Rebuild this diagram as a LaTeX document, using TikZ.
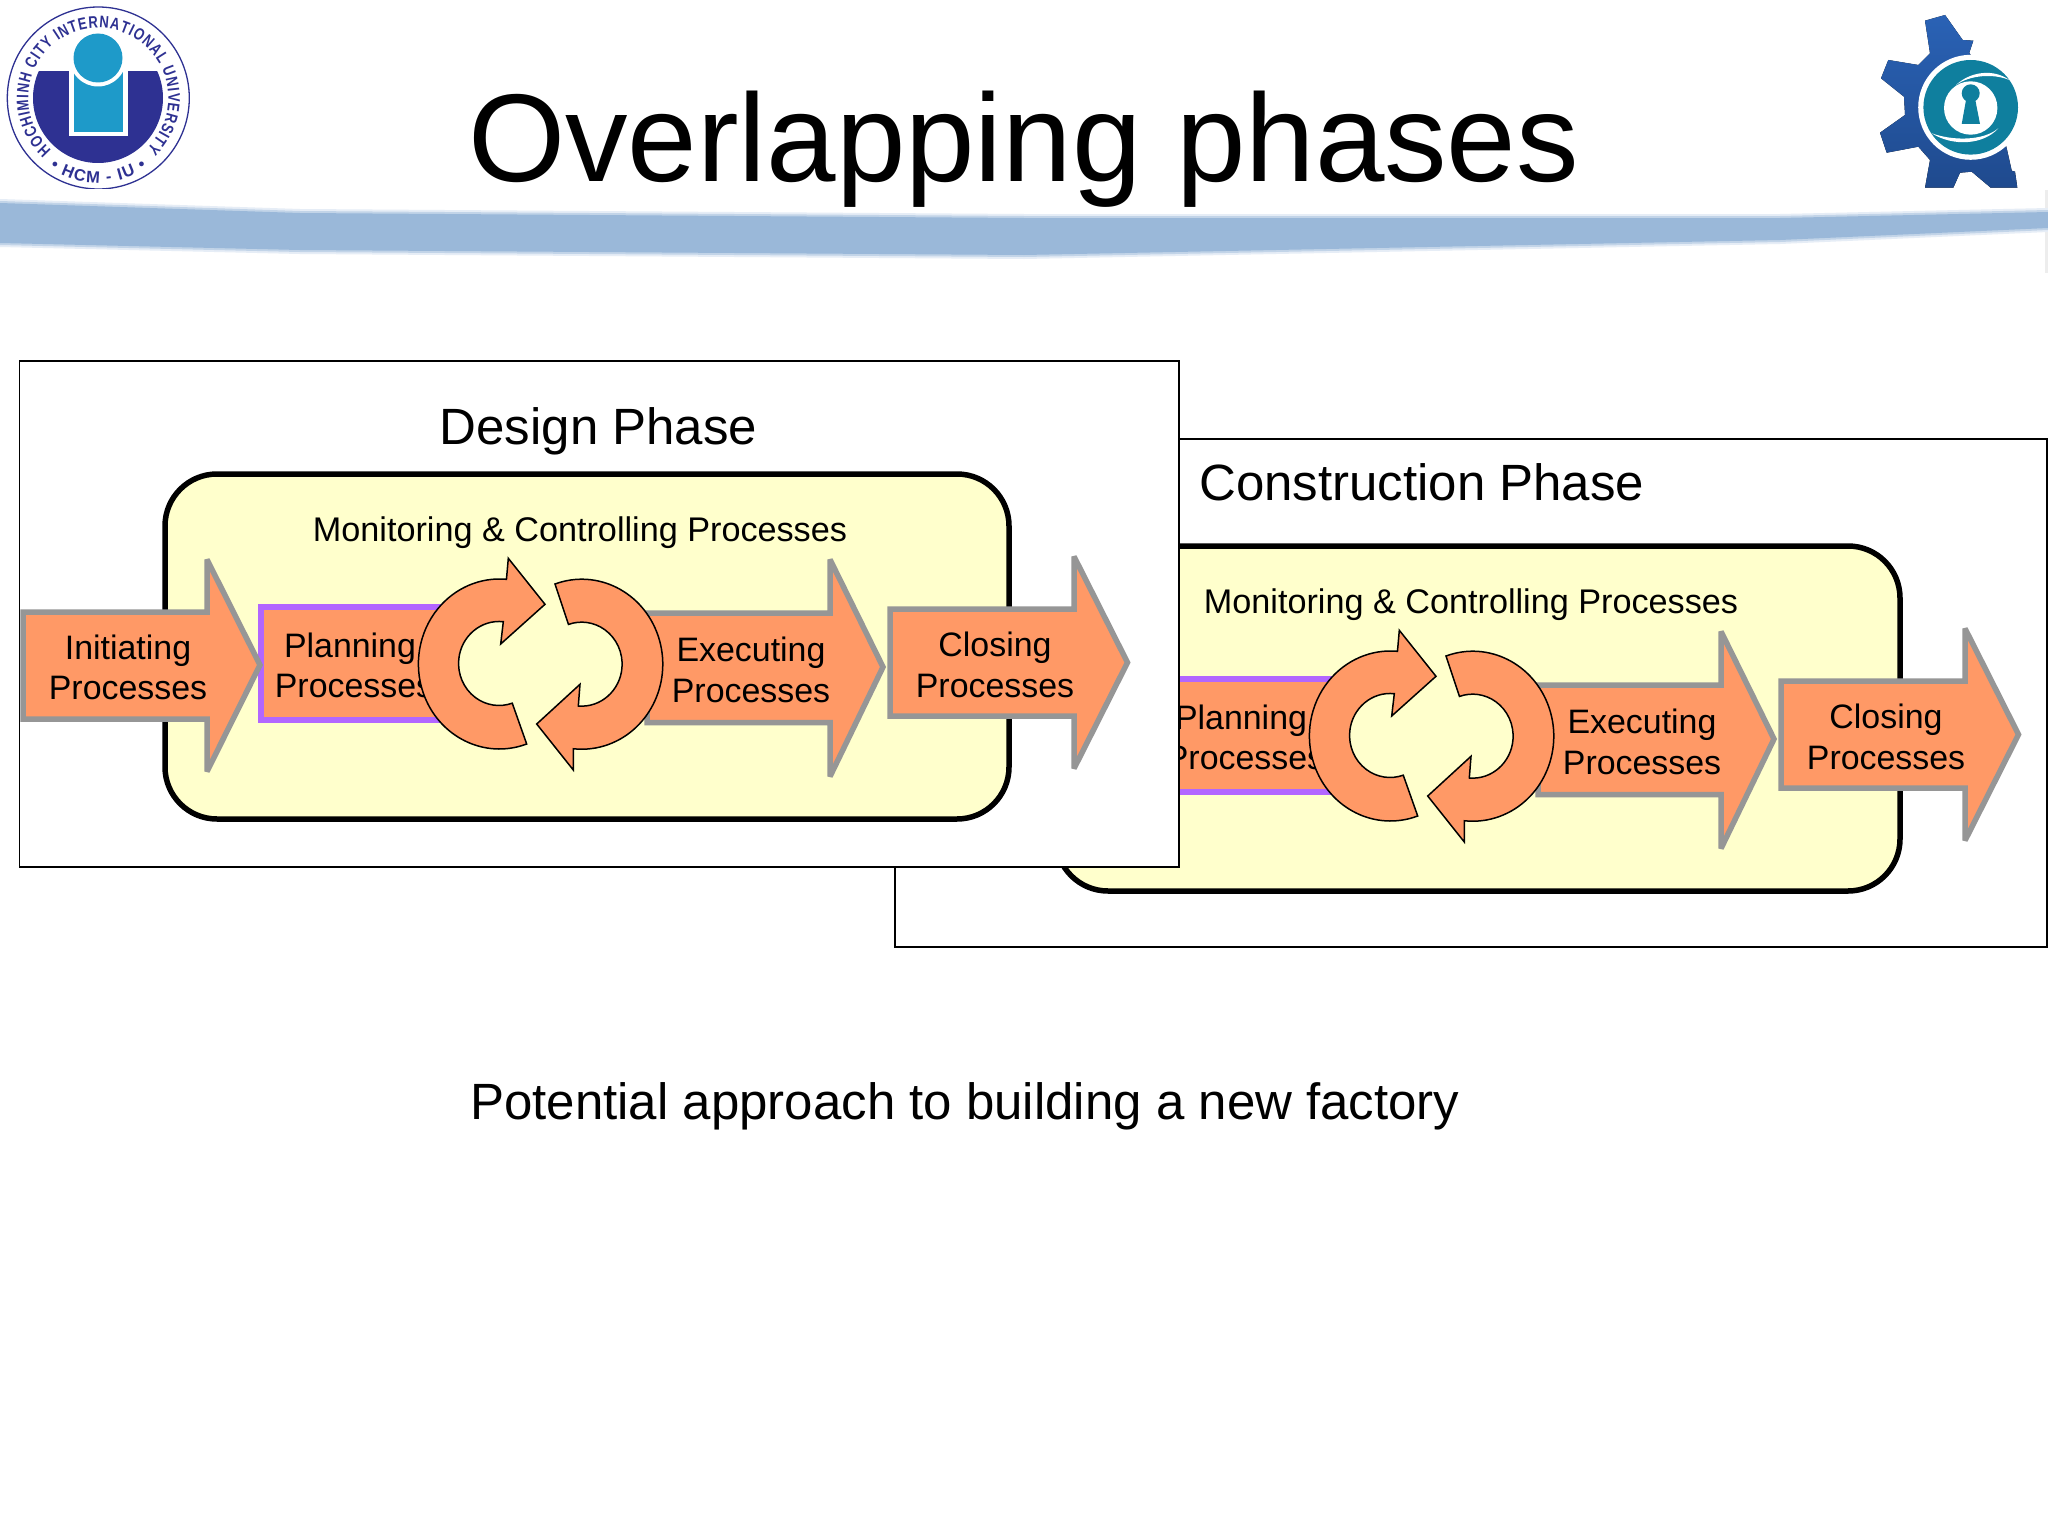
\documentclass[tikz,border=0pt]{standalone}
\usepackage{fontspec}
\setmainfont{Liberation Sans}
\newfontfamily\logofont[FakeStretch=0.78]{Liberation Sans Bold}
\newfontfamily\logowide{Liberation Sans Bold}
\usetikzlibrary{decorations.text}
\definecolor{orangefill}{HTML}{FF9966}
\definecolor{arrowgray}{HTML}{969696}
\definecolor{planpurple}{HTML}{B266FF}
\definecolor{paleyellow}{HTML}{FFFFCC}
\definecolor{bandblue}{HTML}{9AB8D9}
\definecolor{iunavy}{HTML}{2E3192}
\definecolor{iusky}{HTML}{1E9AC9}
\definecolor{geartop}{HTML}{2A62B5}
\definecolor{gearlow}{HTML}{1F4A8E}
\definecolor{keyteal}{HTML}{0F7F9E}
\tikzset{
  procarrow/.style={draw=arrowgray,line width=5.5pt,fill=orangefill,miter limit=4},
  planbox/.style={draw=planpurple,line width=6pt,fill=orangefill},
  loopshape/.style={draw=black,line width=1.5pt,fill=orangefill,line join=miter},
  panelbox/.style={draw=black,line width=1.7pt,fill=white},
  monbox/.style={draw=black,line width=5.5pt,fill=paleyellow,rounded corners=52pt},
  proclabel/.style={align=center,font=\fontsize{33.9}{40.5}\selectfont,inner sep=0pt,text=black},
  montext/.style={font=\fontsize{34.2}{40}\selectfont,inner sep=0pt,text=black},
  phasetext/.style={font=\fontsize{51}{60}\selectfont,inner sep=0pt,text=black},
  phase/.pic={
    \draw[monbox] (165,-474) rectangle (1009,-819);
    \node[montext] (mon) at (580,-533) {Monitoring \& Controlling Processes};
    \draw[planbox] (261,-607) rectangle (448,-720);
    \node[proclabel] (plan) at (350,-665.5) {Planning\\\hspace*{8pt}Processes};
    \draw[procarrow] (23,-612) -- (207,-612) -- (207,-559.5) -- (260,-665) -- (207,-771.5) -- (207,-719) -- (23,-719) -- cycle;
    \node[proclabel] (init) at (128,-667.5) {Initiating\\Processes};
    \draw[procarrow] (647,-613) -- (830,-613) -- (830,-559.5) -- (883,-667) -- (830,-776.5) -- (830,-722.5) -- (647,-722.5) -- cycle;
    \node[proclabel] (exec) at (751,-670) {Executing\\Processes};
    \draw[procarrow] (890,-609) -- (1074,-609) -- (1074,-556.5) -- (1127.5,-662.5) -- (1074,-768.5) -- (1074,-716) -- (890,-716) -- cycle;
    \node[proclabel] (clos) at (995,-665) {Closing\\Processes};
    \draw[loopshape] (526.7,-744) arc[start angle=289.7,end angle=85,x radius=81pt,y radius=85pt]
      -- (508.3,-558.3) -- (545,-604.3) -- (500.7,-644) -- (503.3,-621.7)
      arc[start angle=84,end angle=289,x radius=40.5pt,y radius=42pt] -- cycle;
    \draw[loopshape] (555,-584) arc[start angle=109.3,end angle=-95.9,x radius=81pt,y radius=85pt]
      -- (573.3,-770) -- (536.7,-724) -- (580,-684.3) -- (578.3,-706)
      arc[start angle=-94.7,end angle=109,x radius=40.5pt,y radius=42pt] -- cycle;
  }
}
\begin{document}
\begin{tikzpicture}[x=1pt,y=1pt]
\useasboundingbox (0,-1536) rectangle (2048,0);
\fill[white] (0,-1536) rectangle (2048,0);
% band
\fill[black!7] (2044.5,-190) rectangle (2048,-273);
\fill[bandblue!25] (0,-199) -- (300,-209) -- (1024,-214) -- (1780,-214) -- (2048,-208) -- (2048,-232) -- (1780,-244) -- (1024,-259) -- (300,-254) -- (0,-247) -- cycle;
\fill[bandblue!60] (0,-201) -- (300,-211) -- (1024,-216) -- (1780,-216) -- (2048,-210) -- (2048,-230) -- (1780,-242) -- (1024,-257) -- (300,-252) -- (0,-245) -- cycle;
\fill[bandblue] (0,-203) -- (300,-213) -- (1024,-218) -- (1780,-218) -- (2048,-212) -- (2048,-228) -- (1780,-240) -- (1024,-255) -- (300,-250) -- (0,-243) -- cycle;
% university logo
\begin{scope}
  \clip (0,-188) rectangle (200,0);
  \draw[iunavy,line width=1.3pt] (98.3,-98) circle[radius=91pt];
  \path[postaction={decorate,decoration={text along path,text align={fit to path},
    text={|\logofont\fontsize{16.7}{17}\selectfont\color{iunavy}|HOCHIMINH CITY INTERNATIONAL UNIVERSITY}}}]
    (98.3,-98) ++(228:70pt) arc[start angle=228,end angle=-46,radius=70pt];
  \path[postaction={decorate,decoration={text along path,text align={fit to path},
    text={|\logowide\fontsize{16.5}{17}\selectfont\color{iunavy}|• HCM - IU •}}}]
    (98.3,-98) ++(235:85pt) arc[start angle=235,end angle=305,radius=85pt];
\end{scope}
\begin{scope}
  \clip (0,-72) rectangle (200,-170);
  \fill[iunavy] (98,-98) circle[radius=65pt];
\end{scope}
\fill[white] (69,-60) rectangle (128,-136);
\fill[iusky] (74,-70) rectangle (123,-132);
\fill[white] (98,-58) circle[radius=28.5pt];
\fill[iusky] (98,-58) circle[radius=24.5pt];
% gear logo
\fill[top color=geartop,bottom color=gearlow]
  (1925,-20.7) -- (1945,-15) -- (1962.7,-40) -- (1973.3,-40.7) -- (1969.3,-52.7) -- (1990,-90) -- (2006.7,-148.3) -- (2011.7,-170.7) -- (2015,-171.7) -- (2017.3,-187.7) -- (1990.7,-187.7) -- (1971.7,-171.7) -- (1960,-172.7) -- (1953.3,-187.7) -- (1925,-187.7) -- (1930,-160) -- (1918.3,-146.7) -- (1886.7,-152.7) -- (1880,-132.7) -- (1905,-115) -- (1904,-96.7) -- (1881,-78.3) -- (1888.3,-60) -- (1918.3,-65) -- (1930,-53.3) -- cycle;
\fill[white] (1970.7,-107.3) circle[radius=52.5pt];
\fill[keyteal] (1970.7,-107.3) circle[radius=47.3pt];
\fill[white] (1970.7,-108) circle[radius=26.7pt];
\fill[white] (1956,-85) .. controls (1970,-71.7) and (1993.3,-68.3) .. (2009.3,-80) .. controls (1993.3,-73.3) and (1970,-75) .. (1956,-85) -- cycle;
\fill[white] (1931.7,-133.3) .. controls (1953,-146.7) and (1983.3,-145) .. (1998.3,-128.3) .. controls (1983.3,-141) and (1953,-141) .. (1931.7,-133.3) -- cycle;
\fill[keyteal] (1970.7,-93.3) circle[radius=9pt];
\fill[keyteal] (1966,-100) -- (1975.3,-100) -- (1980,-124) -- (1961.7,-124) -- cycle;
% title
\node[anchor=base west,inner sep=0pt,font=\fontsize{124.9}{130}\selectfont] (title) at (468,-181) {Overlapping phases};
% construction phase
\draw[panelbox] (895,-439) rectangle (2047,-947);
\node[phasetext,anchor=base west] (conhead) at (1199,-500) {Construction Phase};
\pic (con) at (891,-72) {phase};
% design phase
\draw[panelbox] (19.5,-361) rectangle (1179,-867);
\node[phasetext,anchor=base] (deshead) at (598.5,-444) {Design Phase};
\pic (des) at (0,0) {phase};
% caption
\node[phasetext,anchor=base west] (caption) at (470,-1119) {Potential approach to building a new factory};
\end{tikzpicture}
\end{document}
